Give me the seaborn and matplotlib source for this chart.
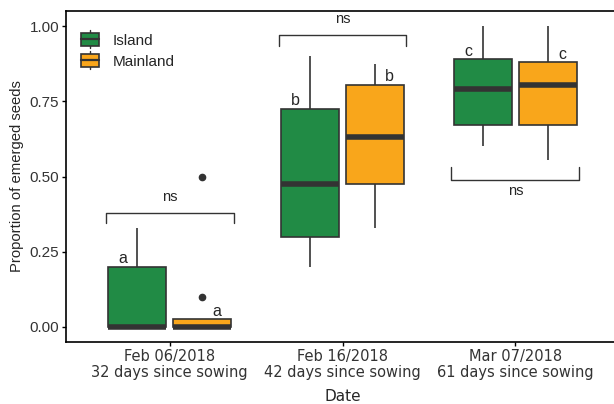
import matplotlib
matplotlib.use("Agg")
import matplotlib.pyplot as plt
from matplotlib.patches import Patch, Rectangle
from matplotlib.lines import Line2D
from matplotlib.legend_handler import HandlerBase
import numpy as np
import pandas as pd
import seaborn as sns

# ---------------------------------------------------------------------------
# Data (proportion of emerged seeds per pot)
# ---------------------------------------------------------------------------
dates = [
    "Feb 06/2018\n32 days since sowing",
    "Feb 16/2018\n42 days since sowing",
    "Mar 07/2018\n61 days since sowing",
]
origins = ["Island", "Mainland"]

island_feb06 = [0.0, 0.0, 0.0, 0.2, 0.33]
mainland_feb06 = [0.0, 0.0, 0.0, 0.0, 0.0, 0.0, 0.1, 0.5]
island_feb16 = [0.2, 0.3, 0.475, 0.725, 0.9]
mainland_feb16 = [0.33, 0.475, 0.63, 0.805, 0.875]
island_mar07 = [0.6, 0.67, 0.79, 0.89, 1.0]
mainland_mar07 = [0.555, 0.67, 0.805, 0.88, 1.0]

letters_island = ["a", "b", "c"]
letters_mainland = ["a", "b", "c"]
pair_labels = ["ns", "ns", "ns"]

GREEN = "#218B45"
ORANGE = "#F9A61B"
DARK = "#333333"

groups = [
    (dates[0], "Island", island_feb06), (dates[0], "Mainland", mainland_feb06),
    (dates[1], "Island", island_feb16), (dates[1], "Mainland", mainland_feb16),
    (dates[2], "Island", island_mar07), (dates[2], "Mainland", mainland_mar07),
]
df = pd.concat(
    [pd.DataFrame({"date": d, "origin": o, "prop": v}) for d, o, v in groups],
    ignore_index=True,
)


class BoxKey(HandlerBase):
    """ggplot-like boxplot legend key: whisker stub, box, median."""

    def create_artists(self, legend, orig, xd, yd, w, h, fontsize, trans):
        x0, y0 = -xd, -yd
        cx, cy = x0 + w / 2, y0 + h / 2
        whisk = Line2D([cx, cx], [y0 - 0.22 * h, y0 + 1.22 * h], color=DARK, lw=1.0)
        box = Rectangle((x0, y0), w, h, facecolor=orig.get_facecolor(),
                        edgecolor=DARK, lw=1.2)
        med = Line2D([x0, x0 + w], [cy, cy], color=DARK, lw=1.6)
        arts = [whisk, box, med]
        for a in arts:
            a.set_transform(trans)
        return arts


# ---------------------------------------------------------------------------
# Plot
# ---------------------------------------------------------------------------
sns.set_style("white")
plt.rcParams["font.family"] = ["Liberation Sans", "DejaVu Sans"]

fig = plt.figure(figsize=(6.14, 4.04), dpi=100)
ax = fig.add_axes([66 / 614, 62 / 404, 553 / 614, 331 / 404])

sns.boxplot(
    data=df, x="date", y="prop", hue="origin",
    order=dates, hue_order=origins,
    palette={"Island": GREEN, "Mainland": ORANGE},
    width=0.75, gap=0.1, linecolor=DARK, linewidth=1.2,
    showcaps=False, saturation=1,
    flierprops=dict(marker="o", markerfacecolor=DARK, markeredgecolor=DARK, markersize=4.5),
    medianprops=dict(linewidth=4, color=DARK),
    legend=False, ax=ax,
)

ax.set_xlim(-0.6, 2.6)
ax.set_ylim(-0.05, 1.05)
ax.set_yticks([0, 0.25, 0.5, 0.75, 1.0])
ax.set_yticklabels(["0.00", "0.25", "0.50", "0.75", "1.00"], fontsize=11, color=DARK)
ax.set_xticks(range(3))
ax.set_xticklabels(dates, fontsize=10.5, color=DARK, family="DejaVu Sans", linespacing=1.05)
ax.set_xlabel("Date", fontsize=11, family="DejaVu Sans", labelpad=7)
ax.set_ylabel("Proportion of emerged seeds", fontsize=10.7, labelpad=4)
ax.tick_params(axis="x", length=3, width=1, color="black", pad=2, bottom=True)
ax.tick_params(axis="y", length=3, width=1, color="black", pad=2, left=True)
for s in ax.spines.values():
    s.set_color("black")
    s.set_linewidth(1.2)

# compact letter display above each box
for i, d in enumerate(dates):
    for o, letters, dx in (("Island", letters_island, -0.27), ("Mainland", letters_mainland, 0.27)):
        q3 = np.percentile(df[(df.date == d) & (df.origin == o)].prop, 75)
        ax.text(i + dx, q3 + 0.012, letters[i], ha="center", va="baseline", fontsize=11.5)

# Island vs Mainland comparison brackets
bracket_y = [0.38, 0.97, 0.49]
tip = [-0.035, -0.035, 0.04]
for i, (y, t, lab) in enumerate(zip(bracket_y, tip, pair_labels)):
    x0, x1 = i - 0.37, i + 0.37
    ax.plot([x0, x0, x1, x1], [y + t, y, y, y + t], color=DARK, lw=1.0)
    if t < 0:
        ax.text(i, y + 0.03, lab, ha="center", va="bottom", fontsize=10.5)
    else:
        ax.text(i, y - 0.015, lab, ha="center", va="top", fontsize=10.5)

handles = [Patch(facecolor=GREEN, label="Island"),
           Patch(facecolor=ORANGE, label="Mainland")]
ax.legend(handles=handles, handler_map={Patch: BoxKey()},
          loc="upper left", bbox_to_anchor=(0.016, 0.952),
          frameon=False, fontsize=11, handlelength=1.2, handleheight=0.9,
          handletextpad=0.85, labelspacing=0.42, borderaxespad=0)

fig.savefig("out.png", dpi=100)
